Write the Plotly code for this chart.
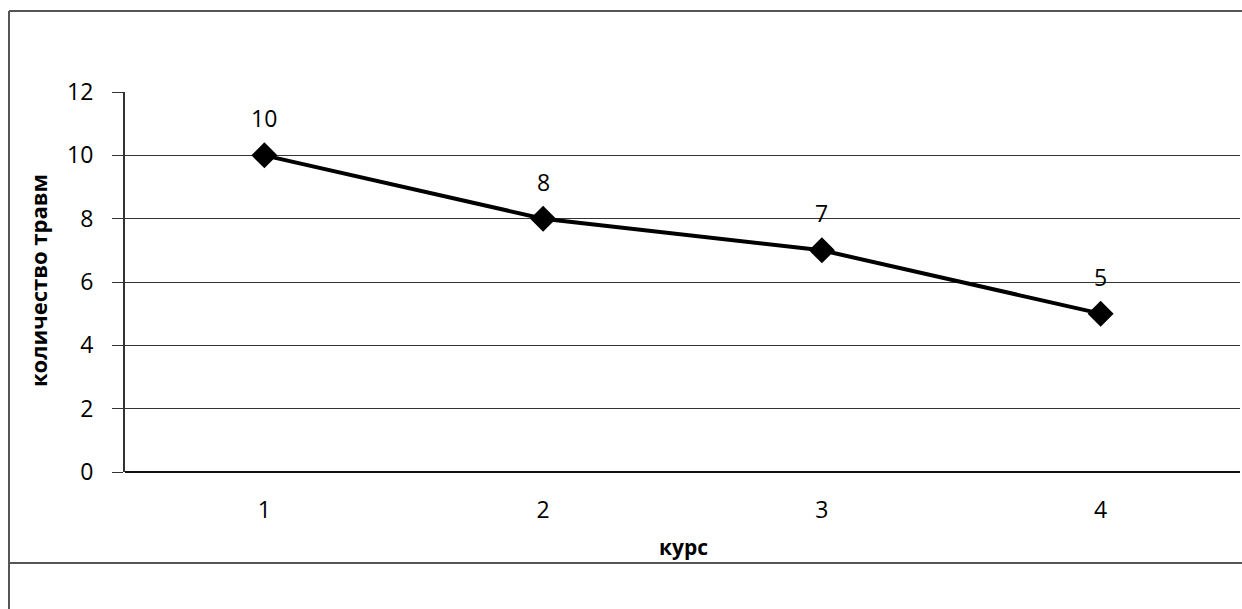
import plotly.graph_objects as go

courses = ["1", "2", "3", "4"]
injuries = [10, 8, 7, 5]
y_ticks = [0, 2, 4, 6, 8, 10, 12]
x_title = "курс"
y_title = "количество травм"

W, H = 1242, 609
ML, MR, MT, MB = 125, 2, 92, 137
PW = W - ML - MR
PH = H - MT - MB

def px_x(p):
    return (p - ML) / PW

def px_y(p):
    return (H - MB - p) / PH

font_main = "Open Sans"

fig = go.Figure()
fig.add_trace(go.Scatter(
    x=courses, y=injuries, mode="lines+markers",
    line=dict(color="black", width=4),
    marker=dict(symbol="diamond", size=20, color="black"),
    showlegend=False, hoverinfo="skip",
))

for i, v in enumerate(injuries):
    fig.add_annotation(x=i, y=v, text=str(v), showarrow=False,
                       yshift=37, font=dict(family=font_main, size=23, color="black"))

# axis titles
fig.add_annotation(xref="paper", yref="paper", x=px_x(683), y=px_y(547),
                   xanchor="center", yanchor="middle",
                   text="<b>" + x_title + "</b>", showarrow=False,
                   font=dict(family=font_main, size=21, color="black"))
fig.add_annotation(xref="paper", yref="paper", x=px_x(38), y=px_y(281),
                   xanchor="center", yanchor="middle",
                   text="<b>" + y_title + "</b>", showarrow=False, textangle=-90,
                   font=dict(family=font_main, size=22, color="black"))

# frame
line = dict(color="#555", width=2)
fig.add_shape(type="line", xref="paper", yref="paper",
              x0=px_x(9), x1=px_x(W + 5), y0=px_y(11), y1=px_y(11), line=line)
fig.add_shape(type="line", xref="paper", yref="paper",
              x0=px_x(9), x1=px_x(W + 5), y0=px_y(563), y1=px_y(563), line=line)
fig.add_shape(type="line", xref="paper", yref="paper",
              x0=px_x(9), x1=px_x(9), y0=px_y(11), y1=px_y(H + 5), line=line)

fig.update_xaxes(
    type="category", range=[-0.5, 3.5],
    showgrid=False, showline=False, zeroline=False,
    ticks="", ticklabelstandoff=22,
    tickfont=dict(family=font_main, size=23, color="black"),
)
fig.update_yaxes(
    range=[0, 12], tickvals=y_ticks,
    showgrid=True, gridcolor="#333", gridwidth=1,
    showline=True, linecolor="#333", linewidth=2,
    zeroline=True, zerolinecolor="#111", zerolinewidth=2,
    ticks="outside", ticklen=11, tickcolor="#333", tickwidth=1,
    ticklabelstandoff=14,
    tickfont=dict(family=font_main, size=23, color="black"),
)

fig.update_layout(
    width=W, height=H,
    margin=dict(l=ML, r=MR, t=MT, b=MB),
    paper_bgcolor="white", plot_bgcolor="white",
)

fig.write_html("out.html", config={"displayModeBar": False},
               post_script="document.body.style.margin='0';document.body.style.overflow='hidden';")
